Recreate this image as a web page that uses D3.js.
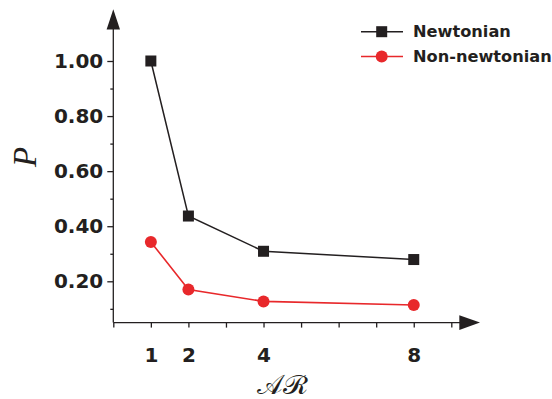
<!DOCTYPE html>
<html>
<head>
<meta charset="utf-8">
<script src="https://cdn.jsdelivr.net/npm/d3@7"></script>
<style>
  body { margin: 0; background: #fff; }
  svg { display: block; }
  text { fill: #231f20; }
  .tick line { stroke: #231f20; stroke-width: 1.3; }
</style>
</head>
<body>
<script>
// data
const arValues = [1, 2, 4, 8];
const newtonian = [1.00, 0.437, 0.309, 0.279];
const nonNewtonian = [0.343, 0.170, 0.127, 0.114];
const yTicks = [0.20, 0.40, 0.60, 0.80, 1.00];
const yMinorTicks = [0.10, 0.30, 0.50, 0.70, 0.90];
const xTicks = [0, 1, 2, 3, 4, 5, 6, 7, 8, 9];
const xTickLabels = [1, 2, 4, 8];
const seriesNames = ["Newtonian", "Non-newtonian"];

const w = 552, h = 399;
const ink = "#231f20", red = "#e8282b";
const tickFont = "DejaVu Sans, Verdana, sans-serif";

const svg = d3.select("body").append("svg")
  .attr("width", w).attr("height", h);

const x = d3.scaleLinear().domain([0, 9]).range([113.3, 451.3]);
const y = d3.scaleLinear().domain([0.05, 1.0]).range([322.6, 61]);

const x0 = x(0), yBase = y(0.05);

// y axis
const gy = svg.append("g").attr("transform", "translate(" + x0 + ",0)")
  .call(d3.axisLeft(y).tickValues(yTicks).tickFormat(d3.format(".2f")).tickSize(6).tickPadding(4));
gy.select(".domain").remove();
gy.selectAll("text")
  .style("font-family", tickFont)
  .style("font-weight", "bold").style("font-size", "20px")
  .attr("fill", ink);

const gym = svg.append("g").attr("transform", "translate(" + x0 + ",0)")
  .call(d3.axisLeft(y).tickValues(yMinorTicks).tickFormat("").tickSize(3));
gym.select(".domain").remove();

// x axis
const gx = svg.append("g").attr("transform", "translate(0," + yBase + ")")
  .call(d3.axisBottom(x).tickValues(xTicks).tickSize(5)
    .tickFormat(d => xTickLabels.includes(d) ? d : ""));
gx.select(".domain").remove();
gx.selectAll("text")
  .attr("y", 39).attr("dy", 0)
  .style("font-family", tickFont)
  .style("font-weight", "bold").style("font-size", "20px")
  .attr("fill", ink);

// axis lines with arrows
svg.append("line").attr("x1", x0).attr("x2", x0).attr("y1", yBase).attr("y2", 28)
  .attr("stroke", ink).attr("stroke-width", 1.3);
svg.append("path")
  .attr("d", "M" + (x0 - 6.7) + ",29.5L" + (x0 + 6.7) + ",29.5L" + x0 + ",9.3Z")
  .attr("fill", ink);
svg.append("line").attr("x1", x0).attr("x2", 461).attr("y1", yBase).attr("y2", yBase)
  .attr("stroke", ink).attr("stroke-width", 1.3);
svg.append("path")
  .attr("d", "M459.3," + (yBase - 7.3) + "L459.3," + (yBase + 7.3) + "L480," + yBase + "Z")
  .attr("fill", ink);

// series
const line = d3.line().x((d, i) => x(arValues[i])).y(d => y(d));

svg.append("path").datum(newtonian)
  .attr("d", line).attr("fill", "none").attr("stroke", ink).attr("stroke-width", 1.5);
svg.append("path").datum(nonNewtonian)
  .attr("d", line).attr("fill", "none").attr("stroke", red).attr("stroke-width", 1.6);

svg.selectAll(".sq").data(newtonian).enter().append("rect")
  .attr("x", (d, i) => x(arValues[i]) - 5.5)
  .attr("y", d => y(d) - 5.5)
  .attr("width", 11).attr("height", 11)
  .attr("fill", ink);

svg.selectAll(".dot").data(nonNewtonian).enter().append("circle")
  .attr("cx", (d, i) => x(arValues[i]))
  .attr("cy", d => y(d))
  .attr("r", 6).attr("fill", red);

// legend
const legend = svg.append("g");
const legY = [31.7, 56.5];
const legCol = [ink, red];
seriesNames.forEach((name, i) => {
  legend.append("line").attr("x1", 361).attr("x2", 403)
    .attr("y1", legY[i]).attr("y2", legY[i])
    .attr("stroke", legCol[i]).attr("stroke-width", 1.5);
  if (i === 0) {
    legend.append("rect").attr("x", 376.2).attr("y", legY[i] - 5.5)
      .attr("width", 11).attr("height", 11).attr("fill", ink);
  } else {
    legend.append("circle").attr("cx", 381.7).attr("cy", legY[i]).attr("r", 6).attr("fill", red);
  }
  legend.append("text")
    .attr("x", 413).attr("y", legY[i] + 5.5)
    .style("font-family", tickFont)
    .style("font-weight", "bold").style("font-size", "16.2px")
    .text(name);
});

// axis titles
svg.append("text")
  .attr("transform", "translate(36,157) rotate(-90)")
  .attr("text-anchor", "middle")
  .style("font-family", "Liberation Serif, serif")
  .style("font-style", "italic").style("font-size", "33px")
  .text("P");

svg.append("text")
  .attr("x", 282).attr("y", 394)
  .attr("text-anchor", "middle")
  .style("font-family", "DejaVu Serif, Liberation Serif, serif")
  .style("font-size", "27px")
  .text("\u{1D49C}\u211B");
</script>
</body>
</html>
